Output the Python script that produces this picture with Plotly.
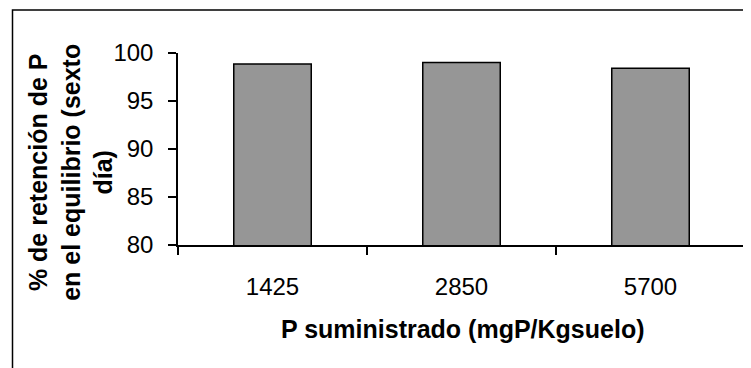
import plotly.graph_objects as go

categories = ["1425", "2850", "5700"]
retention = [98.85, 99.0, 98.4]
y_ticks = [80, 85, 90, 95, 100]

# page body adds an 8px offset; work in reference pixel coords and subtract it
OFF = 8
W, H = 751 - OFF, 368 - OFF
L = 178 - OFF
T = 52.7 - OFF
R = W - (745 - OFF)
B = H - (245.5 - OFF)
pw, ph = W - L - R, H - T - B

def px_x(px):
    return (px - OFF - L) / pw

def px_y(py):
    return (H - B - (py - OFF)) / ph

FONT = "Arial, Liberation Sans, sans-serif"

fig = go.Figure()
fig.add_trace(go.Bar(
    x=categories, y=retention, width=0.41,
    marker=dict(color="#969696", line=dict(color="black", width=1.5)),
))

fig.update_layout(
    width=W, height=H,
    margin=dict(l=L, r=R, t=T, b=B, pad=0),
    paper_bgcolor="white", plot_bgcolor="white",
    showlegend=False,
    font=dict(family=FONT, color="black"),
    xaxis=dict(
        type="category", showline=True, linecolor="black", linewidth=1.5,
        ticks="outside", ticklen=8, tickwidth=1.5, tickcolor="black",
        tickson="boundaries", showgrid=False, zeroline=False,
        tickfont=dict(size=24, family=FONT), ticklabelstandoff=19,
        range=[-0.5, 2.5],
    ),
    yaxis=dict(
        range=[80, 100], tickvals=y_ticks, showline=True, linecolor="black",
        linewidth=1.5, ticks="outside", ticklen=8, tickwidth=1.5, tickcolor="black",
        showgrid=False, zeroline=False, tickfont=dict(size=24, family=FONT),
        ticklabelstandoff=10,
    ),
    shapes=[dict(type="rect", xref="paper", yref="paper",
                 x0=px_x(12.5), x1=px_x(800), y0=px_y(420), y1=px_y(9.5),
                 line=dict(color="black", width=1.5), fillcolor="rgba(0,0,0,0)",
                 layer="below")],
    annotations=[
        dict(text="<b>% de retención de P<br>en el equilibrio (sexto<br>día)</b>",
             xref="paper", yref="paper", x=px_x(71), y=px_y(173),
             xanchor="center", yanchor="middle", textangle=-90, showarrow=False,
             font=dict(size=25, family=FONT), align="center"),
        dict(text="<b>P suministrado (mgP/Kgsuelo)</b>",
             xref="paper", yref="paper", x=px_x(462), y=px_y(330),
             xanchor="center", yanchor="middle", showarrow=False,
             font=dict(size=25, family=FONT)),
    ],
)

fig.write_html("out.html")
